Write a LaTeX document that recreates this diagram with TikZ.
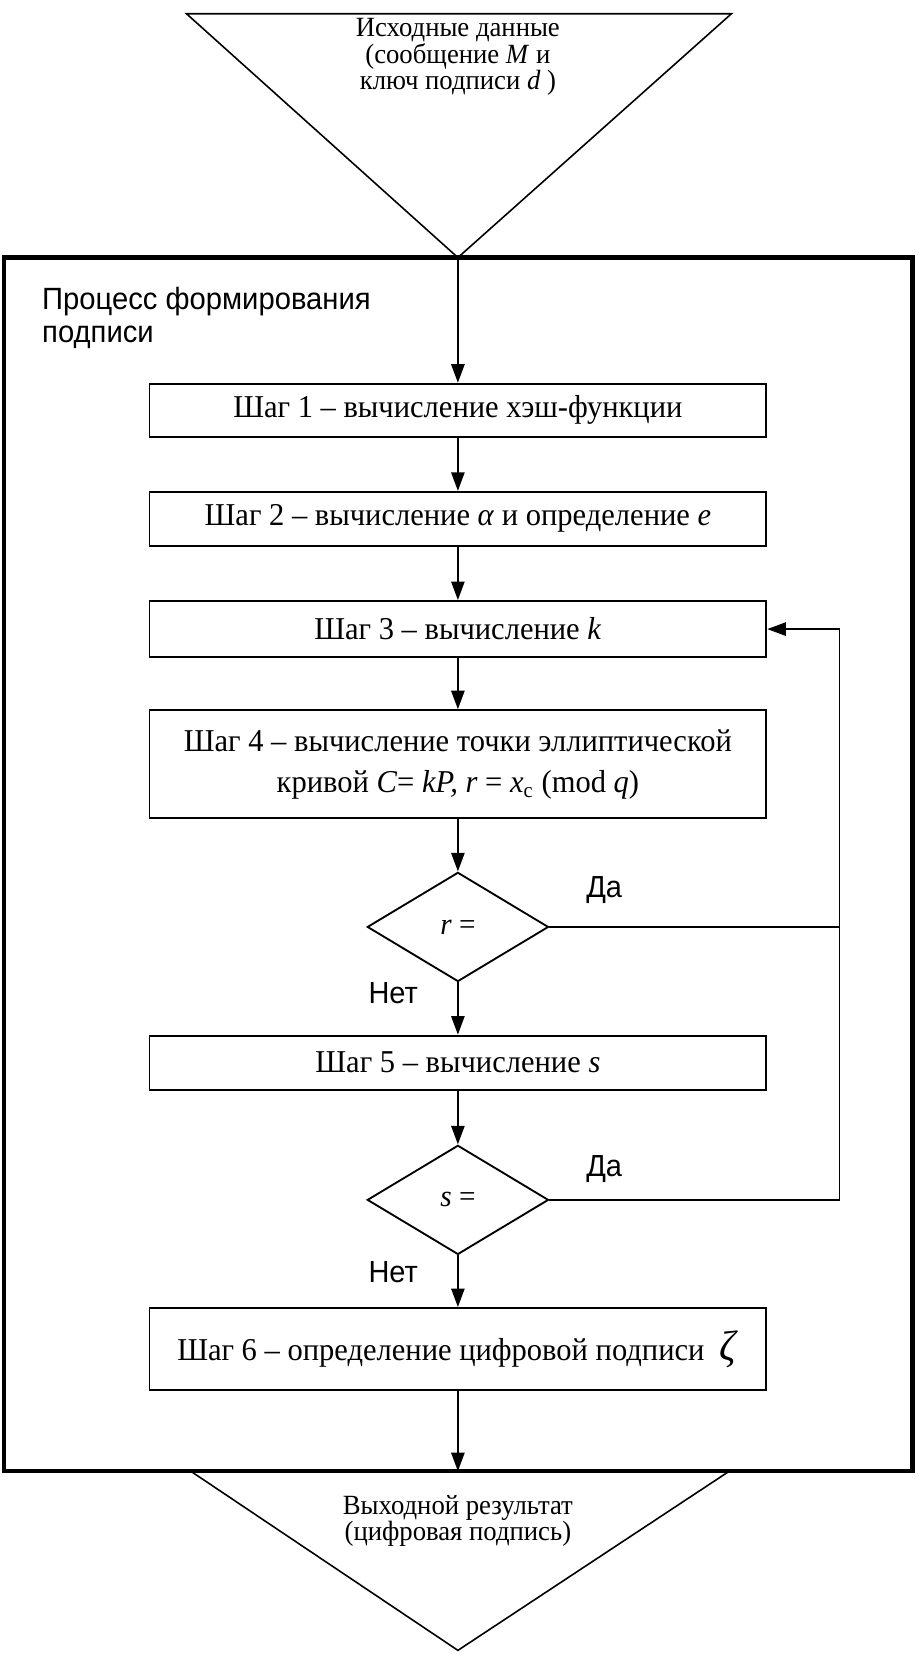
\documentclass[tikz,border=0pt]{standalone}
\usepackage{fontspec}
\setmainfont{Liberation Serif}[FakeStretch=0.96]
\newfontfamily\arialf{Liberation Sans}[FakeStretch=0.95]
\usetikzlibrary{arrows.meta,shapes.geometric}
\begin{document}
\begin{tikzpicture}[x=0.4pt,y=-0.4pt,
  stepbox/.style={draw, line width=0.7pt, minimum width=232.8pt, minimum height=#1, inner sep=0pt, align=center, font=\fontsize{12}{15.6}\selectfont},
  stepbox/.default=20pt,
  decbox/.style={draw, diamond, line width=0.7pt, minimum width=68.4pt, minimum height=41.2pt, inner sep=0pt, font=\fontsize{11.5}{13}\selectfont},
  arr/.style={-{Triangle[length=7pt,width=5pt]}, line width=0.7pt},
  plain/.style={line width=0.7pt},
  frame/.style={line width=1.7pt},
  tri/.style={draw, line width=0.6pt},
  tritext/.style={align=center, font=\fontsize{10.5}{10}\selectfont},
  lbl/.style={font=\arialf\fontsize{11.5}{13}\selectfont}
]
\useasboundingbox (0,0) rectangle (867,1568);
% top triangle
\coordinate (tA) at (176,13);
\coordinate (tB) at (690,13);
\coordinate (tC) at (432,243);
\draw[tri] (tA) -- (tB) -- (tC) -- cycle;
\node[tritext] (intext) at (432,54) {Исходные данные\\(сообщение \textit{M} и\\ключ подписи \textit{d} )};
% frame
\draw[frame] (4,243) rectangle (861,1388);
\node[align=left, anchor=north west, font=\arialf\fontsize{11.6}{12.4}\selectfont] (title) at (31,262) {Процесс формирования\\подписи};
% boxes
\node[stepbox=20pt] (b1) at (432,387) {Шаг 1 – вычисление хэш-функции};
\node[stepbox=20.4pt] (b2) at (432,489.5) {Шаг 2 – вычисление \textit{α} и определение \textit{e}};
\node[stepbox=21.2pt] (b3) at (432,593.5) {Шаг 3 – вычисление \textit{k}};
\node[stepbox=40.8pt] (b4) at (432,721) {Шаг 4 – вычисление точки эллиптической\\кривой \textit{C}= \textit{kP, r} = \textit{x}\textsubscript{c} (mod \textit{q})};
\node[decbox] (d1) at (432,874.5) {\textit{r} =};
\node[stepbox=20.4pt] (b5) at (432,1002.5) {Шаг 5 – вычисление \textit{s}};
\node[decbox] (d2) at (432,1132) {\textit{s} =};
\node[stepbox=30.8pt] (b6) at (432,1272.5) {Шаг 6 – определение цифровой подписи \ {\fontsize{16}{16}\selectfont\textit{ζ}}};
% bottom triangle
\coordinate (bA) at (180,1388);
\coordinate (bB) at (688,1388);
\coordinate (bC) at (432,1557);
\draw[tri] (bA) -- (bB) -- (bC) -- cycle;
\node[tritext] (outtext) at (432,1435) {Выходной результат\\(цифровая подпись)};
% connectors
\draw[arr] (tC) -- (b1.north);
\draw[arr] (b1) -- (b2);
\draw[arr] (b2) -- (b3);
\draw[arr] (b3) -- (b4);
\draw[arr] (b4) -- (d1.north);
\draw[arr] (d1.south) -- (b5.north);
\draw[arr] (b5) -- (d2.north);
\draw[arr] (d2.south) -- (b6.north);
\coordinate (bottomin) at (432,1388);
\draw[arr] (b6.south) -- (bottomin);
\coordinate (loop) at (792,874.5);
\draw[arr] (d1.east) -- (loop) |- (b3.east);
\draw[plain] (d2.east) -| (loop);
% labels
\node[lbl] (da1) at (570,840) {Да};
\node[lbl] (net1) at (371,937) {Нет};
\node[lbl] (da2) at (570,1103) {Да};
\node[lbl] (net2) at (371,1200) {Нет};
\end{tikzpicture}
\end{document}
